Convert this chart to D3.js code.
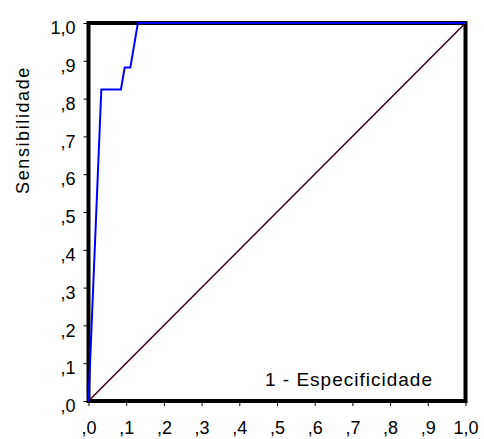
<!DOCTYPE html>
<html>
<head>
<meta charset="utf-8">
<script src="https://cdn.jsdelivr.net/npm/d3@7"></script>
<style>
  html, body { margin: 0; padding: 0; background: #fff; }
  svg { display: block; }
  text { font-family: "Liberation Sans", Arial, sans-serif; fill: #000; }
</style>
</head>
<body>
<svg id="chart" width="484" height="439"></svg>
<script>
// ROC curve: false positive rate (1 - especificidade) vs sensitivity
const fpr = [0, 0.034, 0.086, 0.096, 0.111, 0.131, 1.0];
const tpr = [0, 0.824, 0.824, 0.882, 0.882, 1.0, 1.0];
// Reference (chance) line
const refFpr = [0, 1];
const refTpr = [0, 1];
const tickValues = [0, 0.1, 0.2, 0.3, 0.4, 0.5, 0.6, 0.7, 0.8, 0.9, 1.0];
const tickLabels = [",0", ",1", ",2", ",3", ",4", ",5", ",6", ",7", ",8", ",9", "1,0"];
const xTitle = "1 - Especificidade";
const yTitle = "Sensibilidade";

const svg = d3.select("#chart");
const x = d3.scaleLinear().domain([0, 1]).range([88.5, 465.5]);
const y = d3.scaleLinear().domain([0, 1]).range([401, 23]);
const fmt = d => tickLabels[tickValues.indexOf(d)];

// Axes with short outside ticks
const xAxis = svg.append("g")
  .attr("transform", `translate(0,${y(0)})`)
  .call(d3.axisBottom(x).tickValues(tickValues).tickFormat(fmt).tickSize(5).tickPadding(14));
const yAxis = svg.append("g")
  .attr("transform", `translate(${x(0)},0)`)
  .call(d3.axisLeft(y).tickValues(tickValues).tickFormat(fmt).tickSize(5).tickPadding(8));
[xAxis, yAxis].forEach(g => {
  g.select(".domain").remove();
  g.selectAll(".tick line").attr("stroke", "#000").attr("stroke-width", 1);
  g.selectAll(".tick text")
    .style("font-family", '"Liberation Sans", Arial, sans-serif')
    .style("font-size", "18px")
    .attr("fill", "#000");
});
xAxis.selectAll(".tick text").attr("dy", "0.71em").attr("y", 20);
yAxis.selectAll(".tick text").attr("dy", "0.7em").attr("y", -2);

// Heavy plot frame
svg.append("rect")
  .attr("x", x(0)).attr("y", y(1))
  .attr("width", x(1) - x(0)).attr("height", y(0) - y(1))
  .attr("fill", "none").attr("stroke", "#000").attr("stroke-width", 4);

// Diagonal reference line
const line = d3.line().x(d => x(d[0])).y(d => y(d[1]));
svg.append("path")
  .datum(d3.zip(refFpr, refTpr))
  .attr("d", line)
  .attr("fill", "none").attr("stroke", "#3a0526").attr("stroke-width", 1.6);

// ROC curve
svg.append("path")
  .datum(d3.zip(fpr, tpr))
  .attr("d", line)
  .attr("fill", "none").attr("stroke", "#0000ff").attr("stroke-width", 2)
  .attr("stroke-linejoin", "miter");

// Axis titles
svg.append("text")
  .attr("x", 265).attr("y", 386)
  .style("font-size", "19px").style("letter-spacing", "1px")
  .text(xTitle);
svg.append("text")
  .attr("transform", `translate(29,130) rotate(-90)`)
  .attr("text-anchor", "middle")
  .style("font-size", "18px").style("letter-spacing", "1.6px")
  .text(yTitle);
</script>
</body>
</html>
